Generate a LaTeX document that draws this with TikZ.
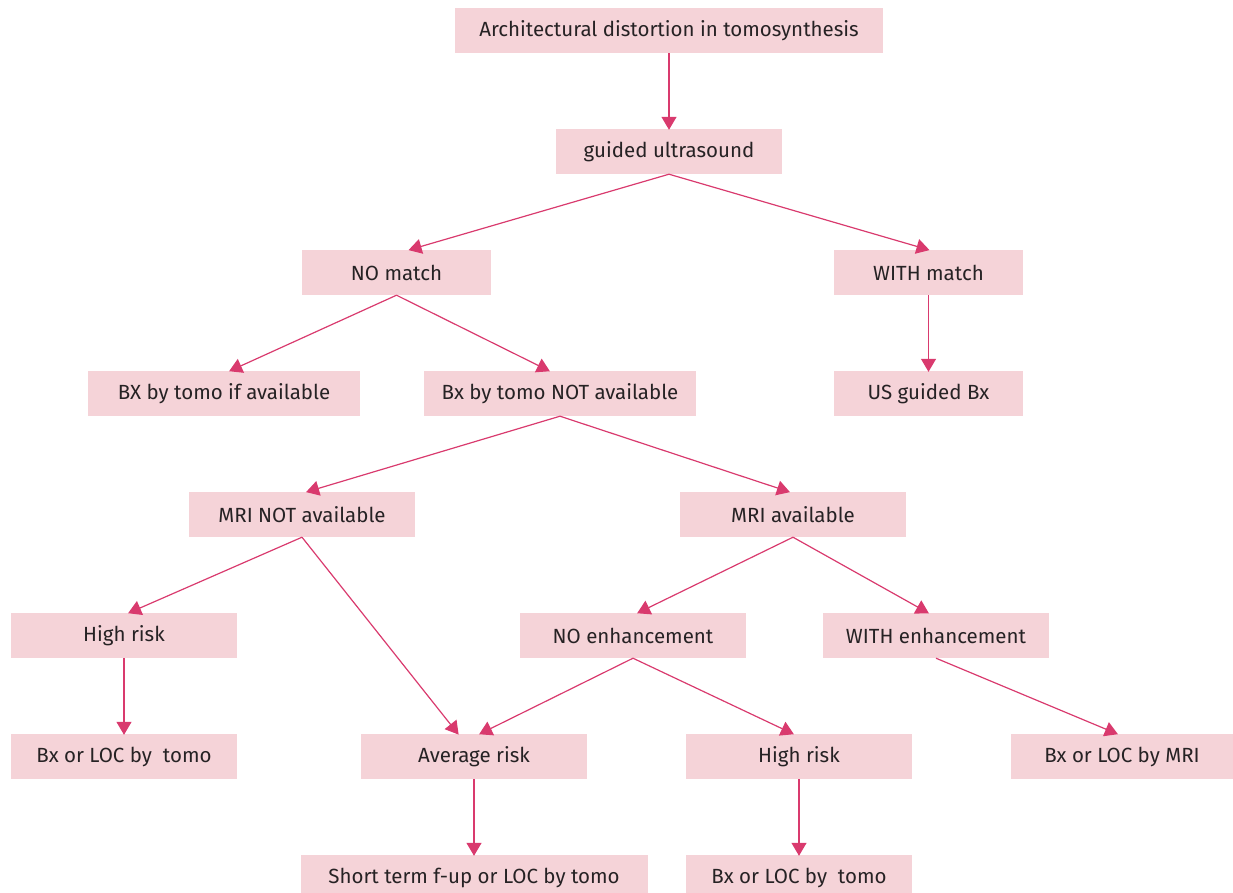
\documentclass[tikz,border=0pt]{standalone}
\usepackage{fontspec}
\setmainfont{Fira Sans}
\usetikzlibrary{arrows.meta}
\definecolor{boxfill}{HTML}{F5D3D8}
\definecolor{linec}{HTML}{D93A6E}
\definecolor{txtc}{HTML}{262224}
\tikzset{
  box/.style={fill=boxfill, draw=none, minimum height=45pt, inner sep=0pt,
    text=txtc, font=\fontsize{20.5}{24}\selectfont, anchor=center},
  conn/.style={draw=linec, line width=1.2pt,
    -{Triangle[width=15pt,length=13pt,fill=linec]}, shorten >=-1pt}
}
\begin{document}
\begin{tikzpicture}[x=1pt,y=-1pt]
\useasboundingbox (0,0) rectangle (1233,892);
\clip (0,0) rectangle (1233,892);
\node[box, minimum width=428pt] (ad) at (669,30.5) {Architectural distortion in tomosynthesis};
\node[box, minimum width=226pt] (gu) at (669,151.5) {guided ultrasound};
\node[box, minimum width=189pt] (nm) at (396.5,272.5) {NO match};
\node[box, minimum width=189pt] (wm) at (928.5,272.5) {WITH match};
\node[box, minimum width=272pt] (bxa) at (224,393.5) {BX by tomo if available};
\node[box, minimum width=272pt] (bxn) at (560,393.5) {Bx by tomo NOT available};
\node[box, minimum width=189pt] (usb) at (928.5,393.5) {US guided Bx};
\node[box, minimum width=226pt] (mrin) at (302,514.5) {MRI NOT available};
\node[box, minimum width=226pt] (mria) at (793,514.5) {MRI available};
\node[box, minimum width=226pt] (hr1) at (124,635.5) {High risk};
\node[box, minimum width=226pt] (ne) at (633,635.5) {NO enhancement};
\node[box, minimum width=226pt] (we) at (936,635.5) {WITH enhancement};
\node[box, minimum width=226pt] (bl1) at (124,756.5) {Bx or LOC by\ \ tomo};
\node[box, minimum width=226pt] (ar) at (474,756.5) {Average risk};
\node[box, minimum width=226pt] (hr2) at (799,756.5) {High risk};
\node[box, minimum width=222pt] (blm) at (1122,756.5) {Bx or LOC by MRI};
\node[box, minimum width=347pt] (st) at (474,877.5) {Short term f-up or LOC by tomo};
\node[box, minimum width=226pt] (bl2) at (799,877.5) {Bx or LOC by\ \ tomo};

\draw[conn] (ad.south) -- (gu.north);
\draw[conn] (gu.south) -- ([xshift=13pt]nm.north);
\draw[conn] (gu.south) -- (wm.north);
\draw[conn] (nm.south) -- ([xshift=6pt]bxa.north);
\draw[conn] (nm.south) -- ([xshift=-11pt]bxn.north);
\draw[conn] (wm.south) -- (usb.north);
\draw[conn] (bxn.south) -- ([xshift=5pt]mrin.north);
\draw[conn] (bxn.south) -- ([xshift=-4pt]mria.north);
\draw[conn] (mrin.south) -- ([xshift=5pt]hr1.north);
\draw[conn] (mrin.south) -- ([xshift=-16pt]ar.north);
\draw[conn] (mria.south) -- ([xshift=5pt]ne.north);
\draw[conn] (mria.south) -- ([xshift=-8pt]we.north);
\draw[conn] (hr1.south) -- (bl1.north);
\draw[conn] (ne.south) -- ([xshift=6pt]ar.north);
\draw[conn] (ne.south) -- ([xshift=-6pt]hr2.north);
\draw[conn] (we.south) -- ([xshift=-5pt]blm.north);
\draw[conn] (ar.south) -- (st.north);
\draw[conn] (hr2.south) -- (bl2.north);
\end{tikzpicture}
\end{document}
